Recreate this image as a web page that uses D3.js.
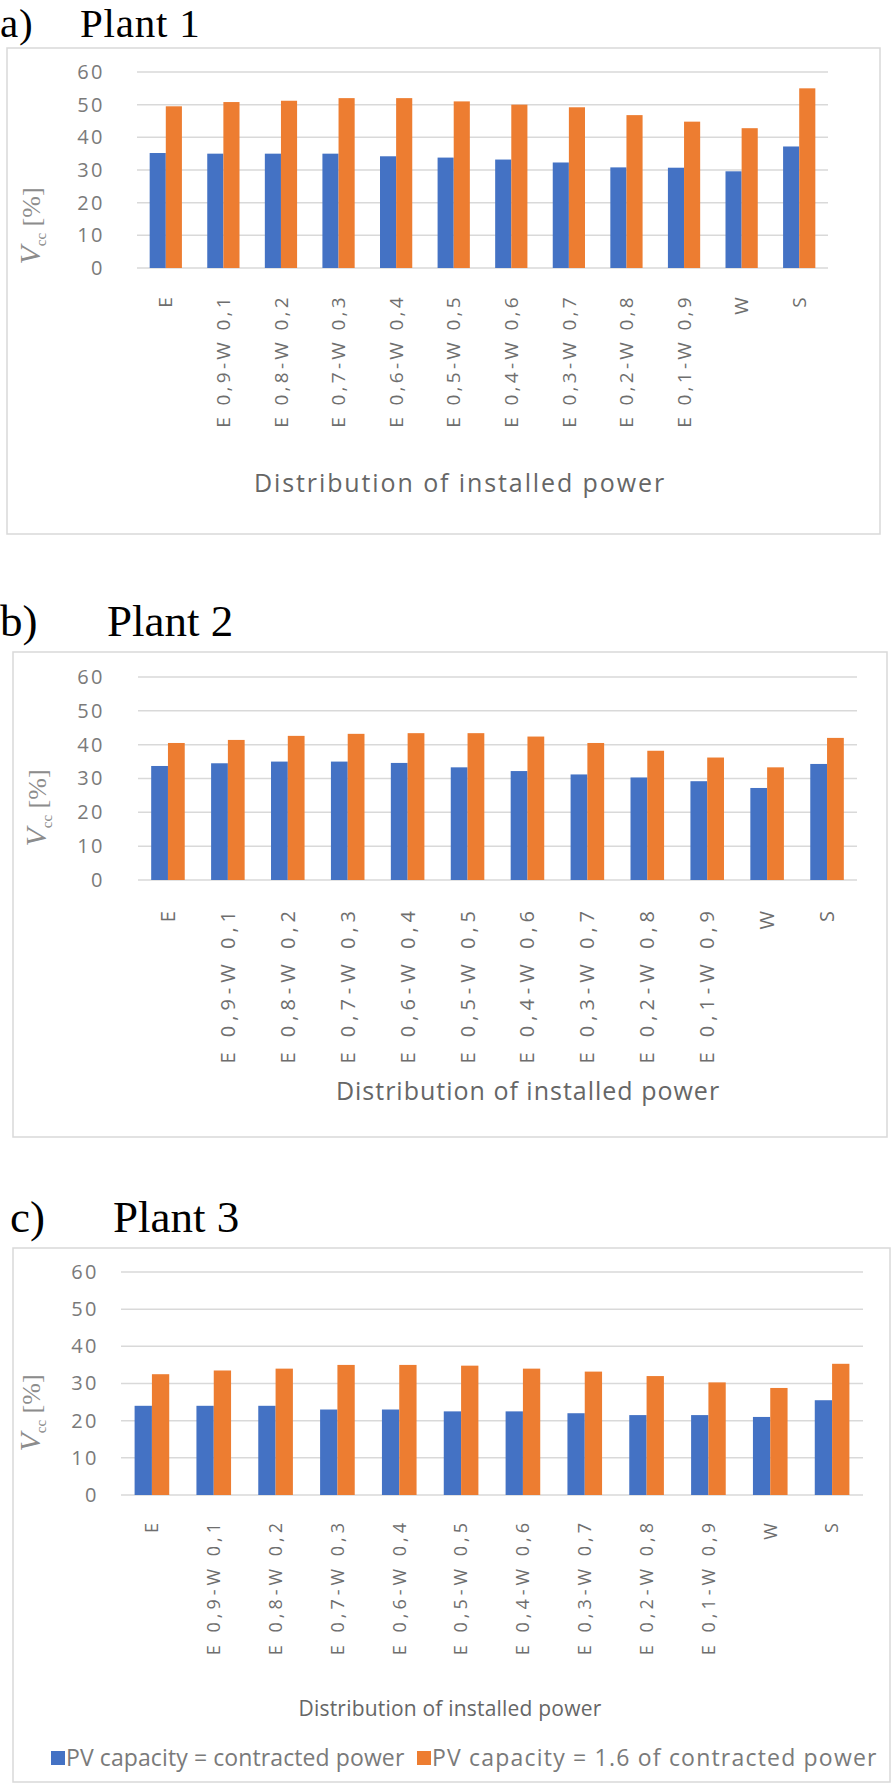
<!DOCTYPE html>
<html>
<head>
<meta charset="utf-8">
<script src="https://cdn.jsdelivr.net/npm/d3@7"></script>
<style>
  body { margin: 0; background: #fff; }
  svg { display: block; }
</style>
</head>
<body>
<div id="chart"></div>
<script>
// categories on the x axis
const categories = ["E", "E 0,9-W 0,1", "E 0,8-W 0,2", "E 0,7-W 0,3", "E 0,6-W 0,4", "E 0,5-W 0,5",
  "E 0,4-W 0,6", "E 0,3-W 0,7", "E 0,2-W 0,8", "E 0,1-W 0,9", "W", "S"];

// series names (legend)
const seriesNames = ["PV capacity = contracted power", "PV capacity = 1.6 of contracted power"];

// plant 1
const plant1Contracted = [35.2, 35.0, 35.0, 35.0, 34.2, 33.8, 33.2, 32.3, 30.8, 30.7, 29.6, 37.2];
const plant1Oversized  = [49.5, 50.8, 51.2, 52.0, 52.0, 51.0, 50.0, 49.2, 46.8, 44.8, 42.8, 55.0];

// plant 2
const plant2Contracted = [33.7, 34.5, 35.0, 35.0, 34.6, 33.3, 32.2, 31.2, 30.3, 29.2, 27.2, 34.3];
const plant2Oversized  = [40.5, 41.4, 42.6, 43.2, 43.4, 43.4, 42.4, 40.5, 38.2, 36.2, 33.3, 42.0];

// plant 3
const plant3Contracted = [24.0, 24.0, 24.0, 23.0, 23.0, 22.5, 22.5, 22.0, 21.5, 21.5, 21.0, 25.5];
const plant3Oversized  = [32.5, 33.5, 34.0, 35.0, 35.0, 34.8, 34.0, 33.2, 32.0, 30.3, 28.8, 35.3];

const yTicks = [0, 10, 20, 30, 40, 50, 60];

const colors = ["#4472c4", "#ed7d31"];
const W = 896, H = 1784;

const svg = d3.select("#chart").append("svg")
  .attr("width", W)
  .attr("height", H);

// one panel per plant
function drawPanel(p) {
  const g = svg.append("g");

  // frame
  g.append("rect")
    .attr("x", p.frame[0]).attr("y", p.frame[1])
    .attr("width", p.frame[2] - p.frame[0]).attr("height", p.frame[3] - p.frame[1])
    .attr("fill", "none").attr("stroke", "#d9d9d9").attr("stroke-width", 1.5);

  // title
  g.append("text")
    .attr("x", p.letterX).attr("y", p.titleY)
    .style("font-family", '"Liberation Serif", "Times New Roman", serif')
    .style("font-size", p.titleSize + "px")
    .style("letter-spacing", p.titleSpacing + "px")
    .text(p.letter);
  g.append("text")
    .attr("x", p.titleX).attr("y", p.titleY)
    .style("font-family", '"Liberation Serif", "Times New Roman", serif')
    .style("font-size", p.titleSize + "px")
    .style("letter-spacing", p.titleSpacing + "px")
    .text(p.title);

  const x0 = d3.scaleBand()
    .domain(categories)
    .range([p.plot[0], p.plot[2]])
    .paddingInner(0.44)
    .paddingOuter(0.22);

  const x1 = d3.scaleBand()
    .domain([0, 1])
    .range([0, x0.bandwidth()]);

  const y = d3.scaleLinear()
    .domain([0, 60])
    .range([p.plot[3], p.plot[1]]);

  // gridlines
  g.append("g")
    .selectAll("line")
    .data(yTicks)
    .join("line")
    .attr("x1", p.plot[0]).attr("x2", p.plot[2])
    .attr("y1", d => y(d)).attr("y2", d => y(d))
    .attr("stroke", "#d9d9d9").attr("stroke-width", 1.5);

  // y axis tick labels
  const yAxis = g.append("g")
    .attr("transform", `translate(${p.tickRight}, 0)`)
    .call(d3.axisLeft(y).tickValues(yTicks).tickSize(0).tickPadding(0));
  yAxis.select(".domain").remove();
  yAxis.selectAll(".tick > text")
    .style("font-family", '"Open Sans", sans-serif')
    .style("font-size", "20px")
    .style("letter-spacing", "2.5px")
    .attr("fill", "#7a7a7a");

  // bars
  const rows = categories.map((c, i) => ({ cat: c, vals: [p.series[0][i], p.series[1][i]] }));
  g.append("g")
    .selectAll("g")
    .data(rows)
    .join("g")
    .attr("transform", d => `translate(${x0(d.cat)}, 0)`)
    .selectAll("rect")
    .data(d => d.vals.map((v, k) => ({ k: k, v: v })))
    .join("rect")
    .attr("x", d => x1(d.k))
    .attr("width", x1.bandwidth())
    .attr("y", d => y(d.v))
    .attr("height", d => y(0) - y(d.v))
    .attr("fill", d => colors[d.k]);

  // x axis labels, rotated
  const xAxis = g.append("g")
    .attr("transform", `translate(0, ${p.plot[3]})`)
    .call(d3.axisBottom(x0).tickSize(0).tickPadding(0));
  xAxis.select(".domain").remove();
  xAxis.selectAll(".tick > text")
    .attr("transform", `translate(0, ${p.labelGap}) rotate(-90)`)
    .attr("x", 0).attr("y", 0).attr("dy", "0.35em")
    .attr("text-anchor", "end")
    .style("font-family", '"Open Sans", sans-serif')
    .style("font-size", p.labelSize + "px")
    .style("letter-spacing", p.labelSpacing + "px")
    .attr("fill", "#6e6e6e");

  // y axis title
  const yl = g.append("text")
    .attr("transform", `translate(${p.yLabel[0]}, ${p.yLabel[1]}) rotate(-90)`)
    .attr("text-anchor", "middle")
    .attr("fill", "#8c8c8c")
    .style("font-family", '"Liberation Serif", serif')
    .style("font-size", "26px");
  yl.append("tspan").style("font-style", "italic").style("font-size", "30px").text("V");
  yl.append("tspan").attr("dy", 6).style("font-size", "15px").text("cc");
  yl.append("tspan").attr("dy", -6).text(" [%]");

  // x axis title
  g.append("text")
    .attr("x", p.xTitle[0]).attr("y", p.xTitle[1])
    .attr("text-anchor", "middle")
    .attr("fill", "#666")
    .style("font-family", '"Open Sans", sans-serif')
    .style("font-size", p.xTitleSize + "px")
    .style("letter-spacing", p.xTitleSpacing + "px")
    .text("Distribution of installed power");

  return g;
}

drawPanel({
  letter: "a)", title: "Plant 1", letterX: 0, titleX: 80, titleY: 37, titleSize: 41, titleSpacing: 0.8,
  frame: [7, 48, 880, 534], plot: [137, 72, 828, 268], tickRight: 105,
  labelGap: 26, labelSize: 19, labelSpacing: 3.3,
  yLabel: [40, 226], xTitle: [460, 492], xTitleSize: 25, xTitleSpacing: 1.9,
  series: [plant1Contracted, plant1Oversized]
});

drawPanel({
  letter: "b)", title: "Plant 2", letterX: 0, titleX: 107, titleY: 636, titleSize: 45, titleSpacing: 0,
  frame: [13, 652, 887, 1137], plot: [138, 677, 857, 880], tickRight: 105,
  labelGap: 26, labelSize: 20, labelSpacing: 5,
  yLabel: [46, 808], xTitle: [528, 1100], xTitleSize: 25, xTitleSpacing: 1.0,
  series: [plant2Contracted, plant2Oversized]
});

const panel3 = drawPanel({
  letter: "c)", title: "Plant 3", letterX: 10, titleX: 113, titleY: 1232, titleSize: 45, titleSpacing: 0,
  frame: [13, 1248, 890, 1782], plot: [121, 1272, 863, 1495], tickRight: 99,
  labelGap: 24, labelSize: 18, labelSpacing: 4,
  yLabel: [40, 1413], xTitle: [450, 1716], xTitleSize: 21, xTitleSpacing: 0.2,
  series: [plant3Contracted, plant3Oversized]
});

// legend
const legendX = [51, 417];
const legendSpacing = [0.1, 1.2];
const legend = panel3.append("g");
seriesNames.forEach((name, k) => {
  legend.append("rect")
    .attr("x", legendX[k]).attr("y", 1751)
    .attr("width", 14).attr("height", 14)
    .attr("fill", colors[k]);
  legend.append("text")
    .attr("x", legendX[k] + 15).attr("y", 1766)
    .attr("fill", "#7a7a7a")
    .style("font-family", '"Open Sans", sans-serif')
    .style("font-size", "23px")
    .style("letter-spacing", legendSpacing[k] + "px")
    .text(name);
});
</script>
</body>
</html>
